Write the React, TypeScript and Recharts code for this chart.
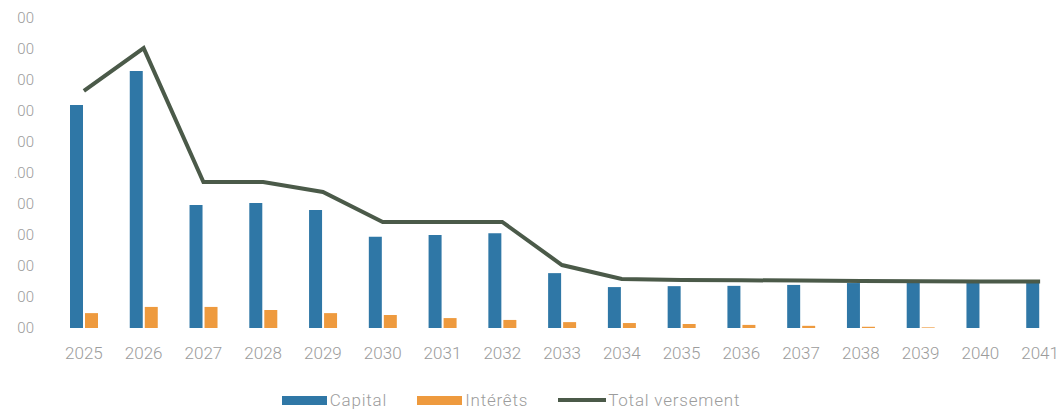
import { ComposedChart, Bar, Line, XAxis, YAxis, Legend } from "recharts";

const years = ["2025", "2026", "2027", "2028", "2029", "2030", "2031", "2032", "2033", "2034", "2035", "2036", "2037", "2038", "2039", "2040", "2041"];
const capital = [7.19, 8.29, 3.97, 4.03, 3.81, 2.94, 3.0, 3.06, 1.77, 1.32, 1.35, 1.36, 1.39, 1.45, 1.47, 1.49, 1.5];
const interets = [0.48, 0.68, 0.68, 0.58, 0.48, 0.42, 0.32, 0.26, 0.19, 0.16, 0.13, 0.1, 0.07, 0.04, 0.02, 0.0, 0.0];
const total = [7.65, 9.03, 4.71, 4.71, 4.39, 3.42, 3.42, 3.42, 2.03, 1.58, 1.55, 1.54, 1.53, 1.52, 1.51, 1.5, 1.5];
const yTicks = [0, 1, 2, 3, 4, 5, 6, 7, 8, 9, 10];
const yTickLabels = ["00", "00", "00", "00", "00", ".00", "00", "00", "00", "00", "00"];

const data = years.map((y, i) => ({
  year: y,
  capital: capital[i],
  interets: interets[i],
  total: total[i],
}));

const BLUE = "#2f77a6";
const ORANGE = "#ee9a3e";
const GREEN = "#4b5a49";
const TEXT = "#9c9c9c";

function LegendContent({ payload }: any) {
  return (
    <div style={{ height: 24, display: "flex", justifyContent: "center", alignItems: "center", fontFamily: "Roboto", fontSize: 17, color: TEXT, fontWeight: 300, letterSpacing: 0.8, paddingRight: 48 }}>
      {(payload || []).map((p: any, i: number) => (
        <div key={i} style={{ display: "flex", alignItems: "center", marginRight: i < 2 ? 30 : 0 }}>
          {p.type === "line" ? (
            <div style={{ width: 48, height: 4, background: p.color, marginRight: 2 }} />
          ) : (
            <div style={{ width: 45, height: 9, background: p.color, marginRight: 3 }} />
          )}
          <span>{p.value}</span>
        </div>
      ))}
    </div>
  );
}

export default function App() {
  return (
    <div style={{ position: "absolute", left: 0, top: 0, width: 1058, height: 412, overflow: "hidden", background: "#fff" }}>
      <ComposedChart
        width={1070}
        height={412}
        data={data}
        margin={{ top: 18, right: 0, bottom: 0, left: 0 }}
        barGap={2}
        barCategoryGap="40%"
      >
        <XAxis
          dataKey="year"
          axisLine={false}
          tickLine={false}
          tickSize={0}
          tickMargin={19}
          height={60}
          interval={0}
          tick={{ fill: TEXT, fontSize: 17, fontFamily: "Roboto", fontWeight: 300 }}
        />
        <YAxis
          domain={[0, 10]}
          ticks={yTicks}
          width={54}
          axisLine={false}
          tickLine={false}
          tickSize={0}
          tickMargin={20}
          tickFormatter={(v: number) => yTickLabels[v]}
          tick={{ fill: TEXT, fontSize: 15, fontFamily: "Roboto", fontWeight: 300 }}
        />
        <Legend verticalAlign="bottom" content={<LegendContent />} />
        <Bar dataKey="capital" name="Capital" fill={BLUE} barSize={13} isAnimationActive={false} />
        <Bar dataKey="interets" name="Intérêts" fill={ORANGE} barSize={13} isAnimationActive={false} />
        <Line
          dataKey="total"
          name="Total versement"
          type="linear"
          stroke={GREEN}
          strokeWidth={4}
          dot={false}
          legendType="line"
          isAnimationActive={false}
        />
      </ComposedChart>
    </div>
  );
}
